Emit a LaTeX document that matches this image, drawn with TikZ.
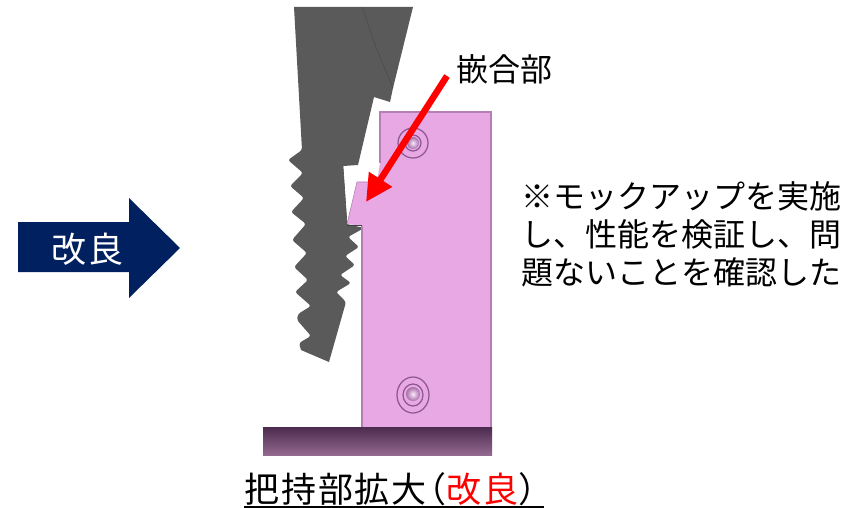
\documentclass[tikz,border=0pt]{standalone}
\usepackage{fontspec}
\setmainfont{Noto Sans CJK JP}
\newfontfamily\spaced[LetterSpace=5.5]{Noto Sans CJK JP}
\usetikzlibrary{arrows.meta}
\definecolor{pinkbody}{HTML}{E8A8E4}
\definecolor{pinkedge}{HTML}{B57FB5}
\definecolor{jaw}{HTML}{5A5A5A}
\definecolor{navy}{HTML}{002060}
\definecolor{ringc}{HTML}{8A5590}
\definecolor{basetop}{HTML}{4B2B4E}
\definecolor{basebot}{HTML}{93698F}
\tikzset{
  px/.style={x=1pt,y=-1pt},
  txt/.style={font=\fontsize{#1}{#1}\selectfont,inner sep=0pt,text=black},
  ttl/.style={font=\fontsize{35}{35}\selectfont\spaced,inner sep=0pt},
  ring/.style={draw=ringc,line width=1.2pt},
  boltball/.style={inner color=pinkbody!25!white,outer color=ringc!70!pinkbody},
}
\begin{document}
\begin{tikzpicture}[px]
\useasboundingbox (0,0) rectangle (849,508);
% jaw
\fill[jaw] (294,7) -- (413,7) -- (393,88) -- (390,102) -- (374,97) -- (358,165) -- (343,166) -- (347,224) [rounded corners=2.5pt] -- (364,228)
 -- (348,237) -- (359,247) -- (345,256) -- (355,265) -- (340,275) -- (351,283) -- (336,292) -- (346,302) [sharp corners] -- (329,362) -- (301,350) [rounded corners=2.5pt] -- (299,343) -- (311,336) -- (297,320) -- (298,314) -- (311,306) -- (295,292) -- (308,280) -- (294,267) -- (307,253) -- (292,240) -- (306,224) -- (291,212) -- (304,198) -- (290,186) -- (303,173) -- (288,160) -- (302,150) [sharp corners] -- cycle;
\draw[black!70,line width=.6pt] (362,7) -- (377,50) -- (393,88);
\draw[black!70,line width=.6pt] (343,166) -- (347,224);
% pink block
\fill[pinkbody] (380,112) -- (491,112) -- (491,427) -- (362,427) -- (362,226) -- (347,224) -- (357,182) -- (377,182) -- (380,163) -- cycle;
\draw[pinkedge,line width=1.2pt] (380,163) -- (380,112) -- (491,112) -- (491,427);
\draw[pinkedge,line width=1.2pt] (362,226) -- (362,427);
\draw[pinkedge,line width=.6pt] (347,224) -- (357,182) -- (377,182);
\draw[black!75,line width=1pt] (347,225) -- (362,225);
% base
\shade[top color=basetop,bottom color=basebot] (263,427) rectangle (492,455);
% bolts
\draw[ring] (413,143) circle (15);
\draw[ring] (413,143) circle (8);
\shade[boltball] (413,143) circle (6);
\draw[ring] (413,395) ellipse (16 and 18);
\draw[ring] (413,395) ellipse (10 and 11);
\shade[boltball] (413,394) circle (7);
% blue arrow
\fill[navy] (18,222) -- (129,222) -- (129,198) -- (180,248) -- (129,298) -- (129,272) -- (18,272) -- cycle;
\node[ttl,text=white,anchor=base west] (kairyo) at (51,262) {改良};
% labels
\node[txt=32,anchor=base west] (kango) at (456,82) {嵌合部};
\coordinate (astart) at (447,76);
\coordinate (atip) at (366,202);
\draw[red,line width=6.5pt,-{Triangle[length=27pt,width=26pt]}] (astart) -- (atip);
\node[txt=32,anchor=base west] (n1) at (521,208) {※モックアップを実施};
\node[txt=32,anchor=base west] (n2) at (521,246) {し、性能を検証し、問};
\node[txt=32,anchor=base west] (n3) at (521,284) {題ないことを確認した};
\node[ttl,anchor=base west] (title) at (244,502) {把持部拡大\kern-15pt（\textcolor{red}{改良}）};
\coordinate (ul) at (244,507);
\coordinate (ur) at (544,507);
\draw[black,line width=1.4pt] (ul) -- (ur);
\end{tikzpicture}
\end{document}
